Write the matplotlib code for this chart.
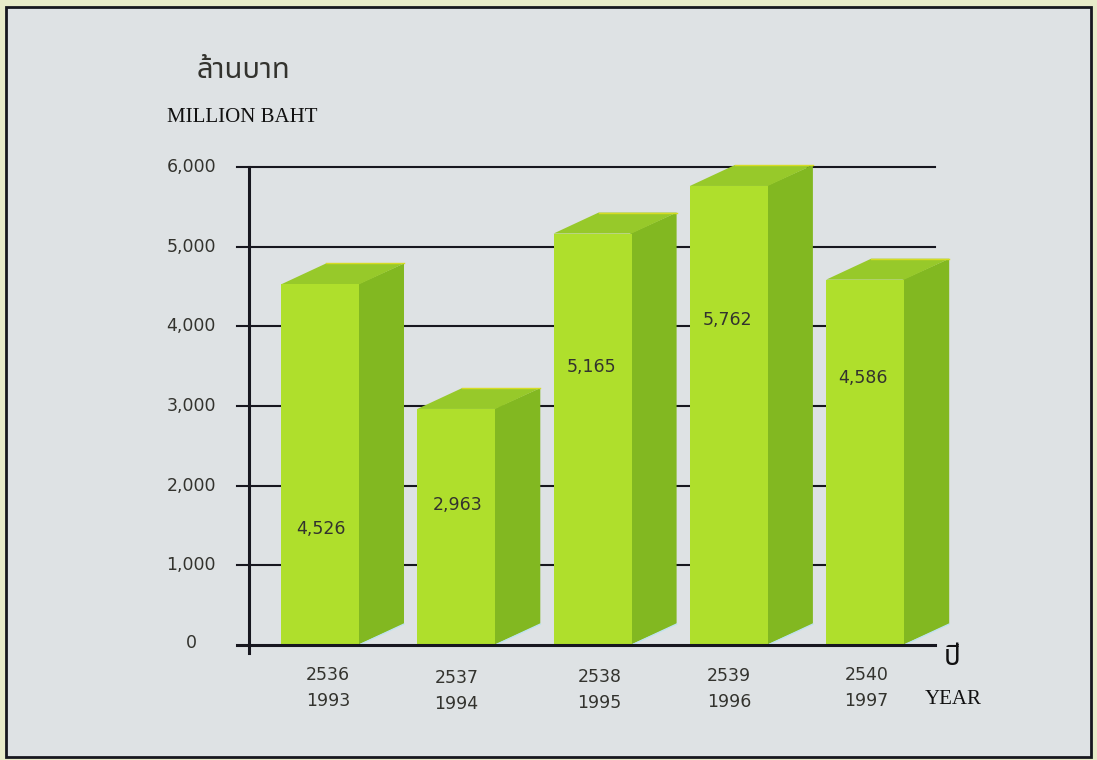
import matplotlib
matplotlib.use("Agg")
import matplotlib.pyplot as plt
from matplotlib.patches import Polygon, Rectangle

years_be = ["2536", "2537", "2538", "2539", "2540"]
years_ce = ["1993", "1994", "1995", "1996", "1997"]
values = [4526, 2963, 5165, 5762, 4586]
value_labels = ["4,526", "2,963", "5,165", "5,762", "4,586"]
y_ticks = [0, 1000, 2000, 3000, 4000, 5000, 6000]
y_tick_labels = ["0", "1,000", "2,000", "3,000", "4,000", "5,000", "6,000"]

W, H = 1097, 760
INK = "#17171f"
TEXT = "#33332e"
THAI = ["Noto Sans Thai", "Noto Sans", "DejaVu Sans"]

fig = plt.figure(figsize=(10.97, 7.6), dpi=100, facecolor="#e8ebc9")

# frame
bg = fig.add_axes([0, 0, 1, 1])
bg.set_xlim(0, W)
bg.set_ylim(H, 0)
bg.axis("off")
bg.add_patch(Rectangle((6, 7), 1085, 750, facecolor="#dee2e4", edgecolor=INK, linewidth=2))

# plot area 237..935 px wide, value 0 at 645 px, 6000 at 167 px
step = 136.3
ax = fig.add_axes([237 / W, (H - 645) / H, 698 / W, 478 / H])
ax.patch.set_alpha(0)
x_left = (237 - 320) / step
x_right = (935 - 320) / step
ax.set_xlim(x_left, x_right)
ax.set_ylim(0, 6000)
ax.set_xticks([])
ax.set_yticks([])
for s in ax.spines.values():
    s.set_visible(False)

for t in y_ticks[1:]:
    ax.plot([x_left, x_right], [t, t], color=INK, lw=1.5, zorder=1, clip_on=False)
ax.plot([x_left, x_right], [0, 0], color=INK, lw=2.2, zorder=5, clip_on=False)
axis_x = (249 - 320) / step
ax.plot([axis_x, axis_x], [-100, 6000], color=INK, lw=2.2, zorder=1, clip_on=False)

bar_w = 78 / step
depth_x = 45 / step
depth_y = 263
overlap = 1.5 / step
label_y = [1455, 1757, 3488, 4077, 3350]
label_dx = [0.01, 0.01, -0.01, -0.01, -0.02]
year_dx = [0.06, 0.0, 0.05, 0.0, 0.01]
year_dy = [0, -40, -25, -15, 0]

for i, v in enumerate(values):
    x0 = i - bar_w / 2
    x1 = i + bar_w / 2
    # side and top first, front bar over them so no grid line shows at the seam
    ax.add_patch(Polygon([(x1 - overlap, 0), (x1 + depth_x, depth_y), (x1 + depth_x, v + depth_y), (x1 - overlap, v)],
                         facecolor="#82b821", edgecolor="none", zorder=3, clip_on=False))
    ax.add_patch(Polygon([(x0, v), (x0 + depth_x, v + depth_y), (x1 + depth_x, v + depth_y), (x1, v)],
                         facecolor="#97c92a", edgecolor="none", zorder=3, clip_on=False))
    ax.bar(i, v, width=bar_w, color="#afdf2c", edgecolor="none", zorder=3.5)
    # thin printed edges
    ax.plot([x0 + depth_x, x1 + depth_x], [v + depth_y, v + depth_y], color="#d6dc24", lw=1, zorder=4, clip_on=False)
    ax.plot([x1, x1 + depth_x], [0, depth_y], color="#bfe2ee", lw=1, zorder=4, clip_on=False)
    ax.text(i + label_dx[i], label_y[i], value_labels[i], ha="center", va="center", fontsize=12.5,
            color=TEXT, zorder=6)
    ax.text(i + year_dx[i], -375 + year_dy[i], years_be[i], ha="center", va="center", fontsize=12.5, color=TEXT)
    ax.text(i + year_dx[i], -700 + year_dy[i], years_ce[i], ha="center", va="center", fontsize=12.5, color=TEXT)

for t, lab in zip(y_ticks[1:], y_tick_labels[1:]):
    ax.text((216 - 320) / step, t, lab, ha="right", va="center", fontsize=12.5, color=TEXT, clip_on=False)
ax.text((191 - 320) / step, 25, y_tick_labels[0], ha="center", va="center", fontsize=12.5, color=TEXT, clip_on=False)

bg.text(197, 70, "ล้านบาท", fontsize=21, color=TEXT, va="center", family=THAI)
bg.text(167, 117, "MILLION BAHT", fontsize=15, color="#111111", va="center", family="Liberation Serif")
bg.text(944, 658, "ปี", fontsize=20, color="#111111", va="center", family=THAI)
bg.text(925, 699, "YEAR", fontsize=15, color="#111111", va="center", family="Liberation Serif")

fig.savefig("out.png", dpi=100, facecolor=fig.get_facecolor())
